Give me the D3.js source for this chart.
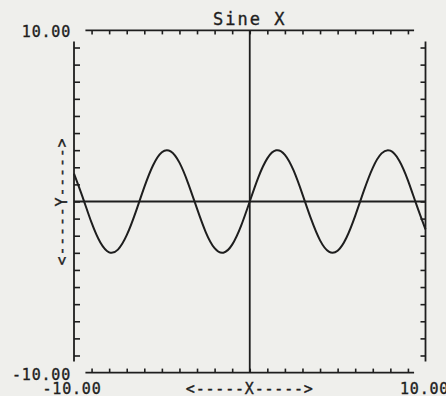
<!DOCTYPE html>
<html>
<head>
<meta charset="utf-8">
<script src="https://cdn.jsdelivr.net/npm/d3@7"></script>
<style>
  html, body { margin: 0; padding: 0; background: #efefec; }
  svg { display: block; }
  text { font-family: "DejaVu Sans Mono", "Liberation Mono", monospace; fill: #1e1e1e; stroke: #1e1e1e; stroke-width: 0.35px; }
</style>
</head>
<body>
<script>
// ---- data ----
const title = "Sine X";
const xLabel = "<-----X----->";
const yLabel = "<-----Y----->";
const xDomain = [-10, 10];
const yDomain = [-10, 10];
const xTickValues = [-9, -8, -7, -6, -5, -4, -3, -2, -1, 0, 1, 2, 3, 4, 5, 6, 7, 8, 9];
const yTickValues = [-9, -8, -7, -6, -5, -4, -3, -2, -1, 0, 1, 2, 3, 4, 5, 6, 7, 8, 9];
const xEndLabels = ["-10.00", "10.00"];
const yEndLabels = ["-10.00", "10.00"];
const seriesX = [-10, -9.5, -9, -8.5, -8, -7.5, -7, -6.5, -6, -5.5, -5, -4.5, -4, -3.5, -3, -2.5, -2, -1.5, -1, -0.5,
                 0, 0.5, 1, 1.5, 2, 2.5, 3, 3.5, 4, 4.5, 5, 5.5, 6, 6.5, 7, 7.5, 8, 8.5, 9, 9.5, 10];
const seriesY = [1.63, 0.23, -1.24, -2.40, -2.97, -2.81, -1.97, -0.65, 0.84, 2.12, 2.88, 2.93, 2.27, 1.05, -0.42, -1.80, -2.73, -2.99, -2.52, -1.44,
                 0, 1.44, 2.52, 2.99, 2.73, 1.80, 0.42, -1.05, -2.27, -2.93, -2.88, -2.12, -0.84, 0.65, 1.97, 2.81, 2.97, 2.40, 1.24, -0.23, -1.63];

// ---- drawing ----
const W = 446, H = 396;
const ink = "#1e1e1e";
const frameExtent = 9.35;

const svg = d3.select("body").append("svg").attr("width", W).attr("height", H);
svg.append("rect").attr("width", W).attr("height", H).attr("fill", "#efefec");

const x = d3.scaleLinear().domain(xDomain).range([74, 425.5]);
const y = d3.scaleLinear().domain(yDomain).range([372.6, 30.4]);

function styleAxis(g) {
  g.select(".domain").remove();
  g.selectAll(".tick line").attr("stroke", ink).attr("stroke-width", 1.6);
  g.selectAll(".tick text").remove();
}

// top frame ticks (pointing down)
svg.append("g").attr("transform", `translate(0,${y(yDomain[1])})`)
  .call(d3.axisBottom(x).tickValues(xTickValues).tickSize(4).tickFormat(""))
  .call(styleAxis);
// bottom frame ticks (pointing up)
svg.append("g").attr("transform", `translate(0,${y(yDomain[0])})`)
  .call(d3.axisTop(x).tickValues(xTickValues).tickSize(4).tickFormat(""))
  .call(styleAxis);
// left frame ticks (pointing right)
svg.append("g").attr("transform", `translate(${x(xDomain[0])},0)`)
  .call(d3.axisRight(y).tickValues(yTickValues).tickSize(6).tickFormat(""))
  .call(styleAxis);
// right frame ticks (pointing left)
svg.append("g").attr("transform", `translate(${x(xDomain[1])},0)`)
  .call(d3.axisLeft(y).tickValues(yTickValues).tickSize(5).tickFormat(""))
  .call(styleAxis);

const lines = svg.append("g").attr("stroke", ink).attr("stroke-width", 1.8).attr("fill", "none");
// frame lines (not reaching corners)
lines.append("line").attr("x1", x(-frameExtent)).attr("x2", x(frameExtent)).attr("y1", y(yDomain[1])).attr("y2", y(yDomain[1]));
lines.append("line").attr("x1", x(-frameExtent)).attr("x2", x(frameExtent)).attr("y1", y(yDomain[0])).attr("y2", y(yDomain[0]));
lines.append("line").attr("x1", x(xDomain[0])).attr("x2", x(xDomain[0])).attr("y1", y(frameExtent)).attr("y2", y(-frameExtent));
lines.append("line").attr("x1", x(xDomain[1])).attr("x2", x(xDomain[1])).attr("y1", y(frameExtent)).attr("y2", y(-frameExtent));
// zero axes
lines.append("line").attr("x1", x(0)).attr("x2", x(0)).attr("y1", y(yDomain[1])).attr("y2", y(yDomain[0]));
lines.append("line").attr("x1", x(xDomain[0])).attr("x2", x(xDomain[1])).attr("y1", y(0)).attr("y2", y(0));

// sine curve
const pts = seriesX.map((d, i) => [d, seriesY[i]]);
svg.append("path")
  .datum(pts)
  .attr("fill", "none")
  .attr("stroke", ink)
  .attr("stroke-width", 2)
  .attr("d", d3.line().x(d => x(d[0])).y(d => y(d[1])).curve(d3.curveNatural));

// texts
svg.append("text").attr("x", x(0)).attr("y", 24.5).attr("text-anchor", "middle")
  .style("font-size", "17px").style("letter-spacing", "2px").text(title);

const numStyle = s => s.style("font-size", "15px").style("letter-spacing", "0.8px");
svg.append("text").attr("x", 71).attr("y", y(yDomain[1]) + 7).attr("text-anchor", "end").call(numStyle).text(yEndLabels[1]);
svg.append("text").attr("x", 71).attr("y", y(yDomain[0]) + 7.5).attr("text-anchor", "end").call(numStyle).text(yEndLabels[0]);
svg.append("text").attr("x", x(xDomain[0]) - 2).attr("y", 393.5).attr("text-anchor", "middle").call(numStyle).text(xEndLabels[0]);
svg.append("text").attr("x", 400).attr("y", 393.5).attr("text-anchor", "start").call(numStyle).text(xEndLabels[1]);
svg.append("text").attr("x", x(0)).attr("y", 393.5).attr("text-anchor", "middle").call(numStyle).text(xLabel);
svg.append("text").attr("transform", `translate(67,${y(0)}) rotate(-90)`).attr("text-anchor", "middle")
  .call(numStyle).text(yLabel);
</script>
</body>
</html>
